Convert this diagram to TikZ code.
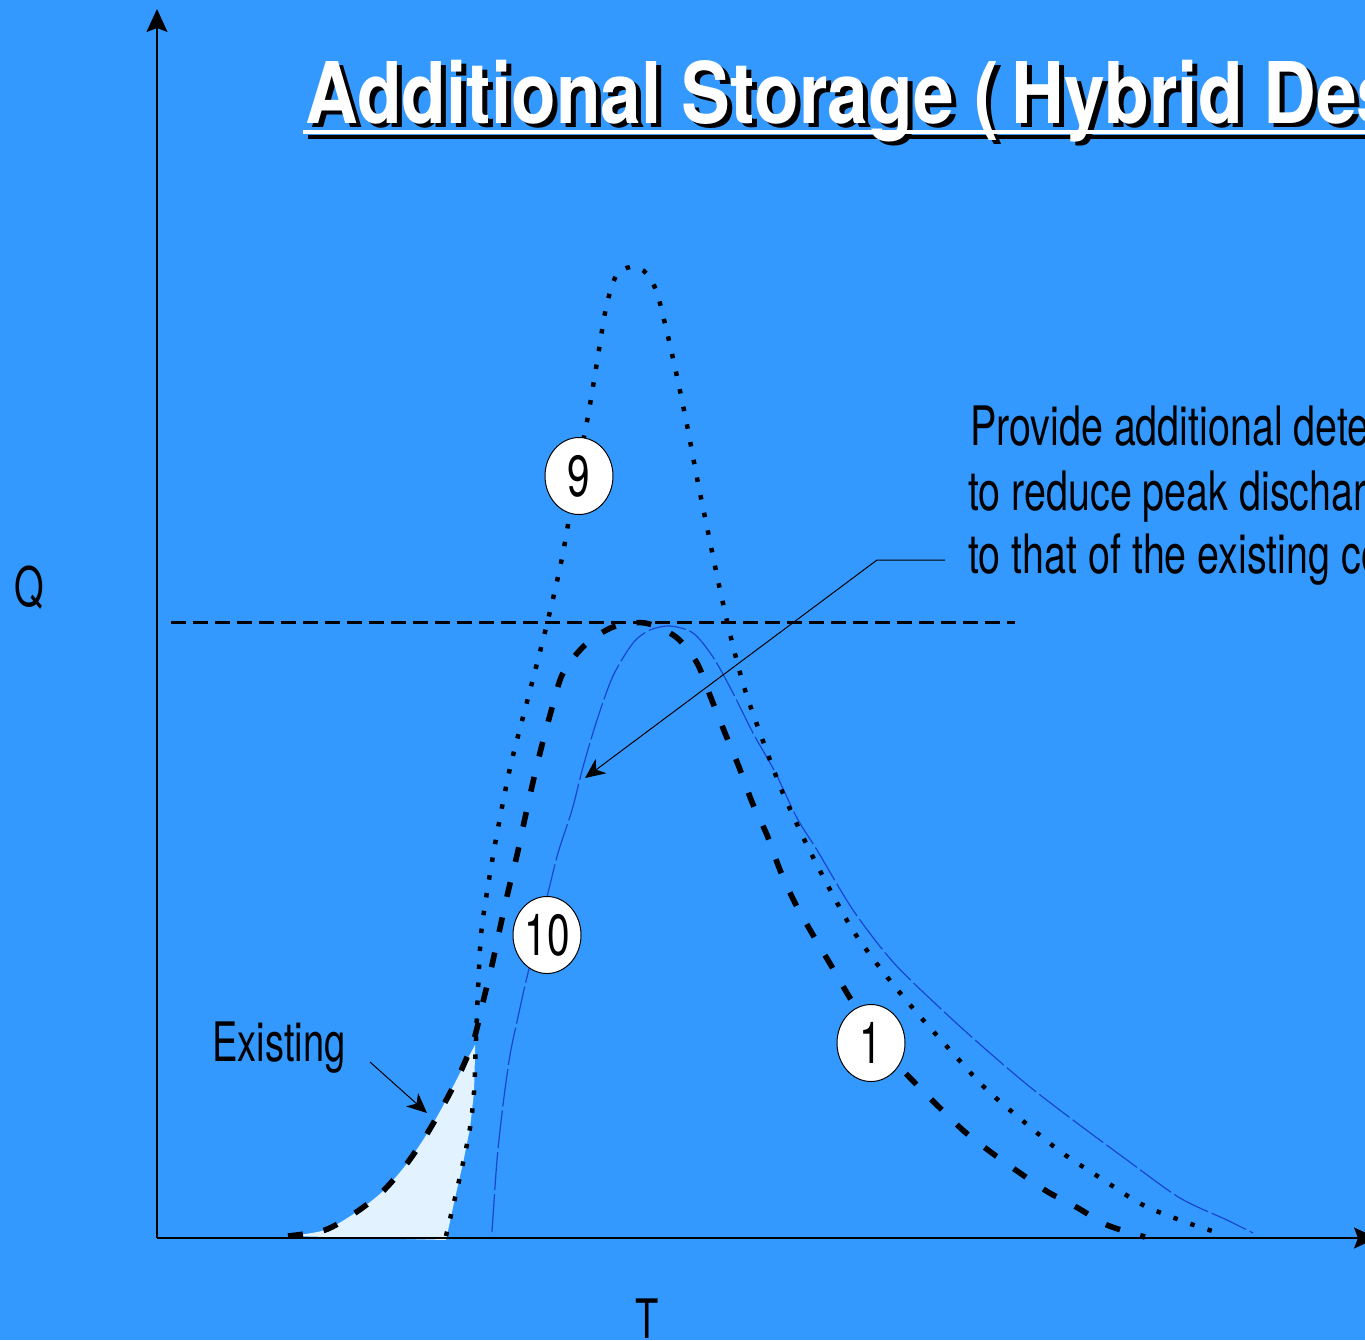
\documentclass[tikz,border=0pt]{standalone}
\usepackage{fontspec}
\setmainfont[FakeStretch=0.70]{TeX Gyre Heros}
\newfontfamily\notefont[FakeStretch=0.725]{TeX Gyre Heros}
\newfontfamily\titlefont[FakeStretch=0.86]{TeX Gyre Heros}
\usetikzlibrary{arrows.meta,shapes.geometric}
\definecolor{bg}{RGB}{51,153,255}
\definecolor{curveblue}{RGB}{25,70,205}
\definecolor{exfill}{RGB}{226,243,255}
\begin{document}
\begin{tikzpicture}[x=0.5pt,y=-0.5pt,
  lbl/.style={font=\fontsize{27.2}{32}\selectfont, inner sep=0, anchor=base west},
  notelbl/.style={font=\notefont\fontsize{27.2}{32}\selectfont, inner sep=0, anchor=base west},
  titletext/.style={font=\titlefont\bfseries\fontsize{42.5}{50}\selectfont, inner sep=0, anchor=base west},
  numcirc/.style={ellipse, draw=black, line width=0.5pt, fill=white, minimum width=34pt, minimum height=38.5pt, inner sep=0, font=\fontsize{29}{32}\selectfont},
  axisline/.style={line width=0.75pt, -{Stealth[length=11.5pt,width=10.5pt,inset=2pt]}},
  thinarrow/.style={line width=0.5pt, -{Stealth[length=10pt,width=9pt,inset=3pt]}},
  peakdash/.style={line width=2.8pt, dash pattern=on 7.5pt off 10.5pt},
  dotcurve/.style={line width=2.25pt, dash pattern=on 2.25pt off 6.75pt},
  bluecurve/.style={curveblue, line width=0.6pt, dash pattern=on 19pt off 2pt},
  refline/.style={line width=1.5pt, dash pattern=on 7.5pt off 3.5pt}]

\useasboundingbox (0,0) rectangle (1365,1340);
\fill[bg] (0,0) rectangle (1365,1340);
\clip (0,0) rectangle (1365,1340);

% existing shaded area
\fill[exfill] plot[smooth] coordinates {(290,1236) (325,1230) (355,1213) (382,1192) (405,1166) (425,1137) (443,1106) (460,1073) (475,1045)}
  -- (475,1056) -- (474,1092) -- (470,1128) -- (463,1163) -- (455,1198) -- (446,1240) -- cycle;

% axes
\coordinate (O) at (157,1238);
\coordinate (ytop) at (157,9);
\coordinate (xend) at (1377,1238);
\draw[axisline] (O) -- (ytop);
\draw[axisline] (O) -- (xend);

% reference peak line
\coordinate (ref1) at (171,622);
\coordinate (ref2) at (1015,622);
\draw[refline] (ref1) -- (ref2);

% curve 10 (blue)
\draw[bluecurve] plot[smooth] coordinates {(492,1232) (497,1160) (503,1105) (510,1055) (518,1017) (527,977) (547,897) (558,853) (572,810) (583,767) (597,720) (613,676) (633,643) (650,630) (670,626) (693,633) (713,657) (733,693) (753,733) (775,772) (797,818) (817,850) (853,910) (893,962) (940,1008) (983,1047) (1030,1087) (1077,1123) (1127,1160) (1180,1198) (1227,1220) (1253,1233)};

% curve 9 (dotted)
\draw[dotcurve] plot[smooth] coordinates {(446,1236) (455,1198) (463,1163) (470,1128) (474,1092) (476,1040) (478,990) (481,935) (487,892) (496,839) (510,768) (528,698) (546,628) (562,558) (576,478) (588,416) (597,362) (606,308) (616,276) (630,267) (644,271) (656,290) (666,328) (676,372) (687,425) (697,478) (708,532) (719,585) (731,638) (745,690) (763,741) (782,791) (804,839) (828,886) (854,932) (884,973) (917,1013) (951,1051) (985,1088) (1023,1121) (1061,1152) (1102,1179) (1143,1205) (1188,1223) (1222,1234)};

% curve 1 (thick dashed)
\draw[peakdash] plot[smooth] coordinates {(288,1236) (325,1230) (355,1213) (382,1192) (405,1166) (425,1137) (443,1106) (460,1073) (474,1039) (483,1002) (492,965) (500,928) (508,892) (517,855) (525,818) (533,782) (542,745) (552,708) (563,673) (585,645) (613,627) (645,623) (676,637) (697,663) (711,698) (725,733) (739,767) (752,802) (767,835) (780,870) (795,903) (813,935) (832,967) (850,998) (880,1045) (915,1083) (940,1108) (965,1132) (992,1153) (1020,1173) (1048,1192) (1078,1208) (1107,1225) (1145,1237)};

% number circles
\node[numcirc] (c9) at (579,476) {9};
\node[numcirc] (c10) at (547,935) {10};
\node[numcirc] (c1) at (871,1043) {1};

% title with shadow
\draw[black, line width=2pt] (308,137) -- (1400,137);
\node[titletext, text=black] (titleshadow) at (310,127) {Additional Storage (\hspace{-4pt} Hybrid Design )};
\draw[white, line width=2pt] (303,132) -- (1400,132);
\node[titletext, text=white] (title) at (305,123) {Additional Storage (\hspace{-4pt} Hybrid Design )};

% axis labels
\node[lbl] (qlabel) at (14,606) {Q};
\node[lbl, anchor=base] (tlabel) at (647,1338) {T};

% note with leader
\node[notelbl] (note1) at (970,445) {Provide additional detention};
\node[notelbl] (note2) at (968,510) {to reduce peak discharge};
\node[notelbl] (note3) at (968,573) {to that of the existing condition};
\coordinate (lead1) at (945,560);
\coordinate (leadbend) at (877,560);
\coordinate (leadtip) at (585,778);
\draw[thinarrow] (lead1) -- (leadbend) -- (leadtip);

% existing label
\node[lbl] (existing) at (212,1061) {Existing};
\coordinate (ex1) at (370,1062);
\coordinate (ex2) at (427,1113);
\draw[thinarrow] (ex1) -- (ex2);
\end{tikzpicture}
\end{document}
